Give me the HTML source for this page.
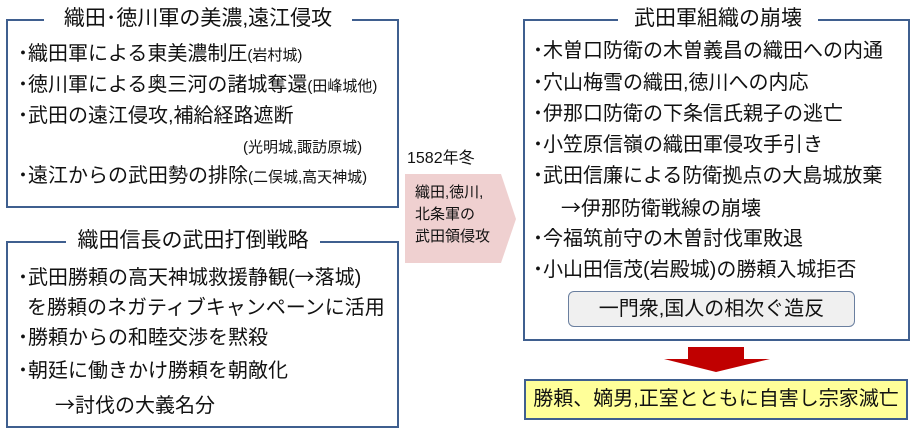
<!DOCTYPE html>
<html><head><meta charset="utf-8"><style>
body{margin:0;width:910px;height:429px;background:#fff;position:relative;overflow:hidden;font-family:"Liberation Sans","Noto Sans CJK JP",sans-serif;color:#111}
.box{position:absolute;border:2px solid #3f5f8f;box-sizing:border-box}
.t{position:absolute;white-space:nowrap;font-size:20px;line-height:24px}
.s{font-size:15px}
.d{display:inline-block;width:10px;font-size:20px;font-weight:bold}
.a{font-family:"Noto Sans CJK JP",sans-serif}
.ttl{position:absolute;background:#fff;white-space:nowrap;font-size:21px;line-height:26px;text-align:center}
</style></head><body>
<div class="box" style="left:6px;top:19px;width:393px;height:189px"></div>
<div class="ttl" style="left:44px;top:6px;width:308px">織田･徳川軍の美濃,遠江侵攻</div>
<div class="t" style="left:18px;top:42px"><span class="d">･</span>織田軍による東美濃制圧<span class="s">(岩村城)</span></div>
<div class="t" style="left:18px;top:73px"><span class="d">･</span>徳川軍による奥三河の諸城奪還<span class="s">(田峰城他)</span></div>
<div class="t" style="left:18px;top:104px"><span class="d">･</span>武田の遠江侵攻,補給経路遮断</div>
<div class="t s" style="left:243px;top:136px">(光明城,諏訪原城)</div>
<div class="t" style="left:18px;top:164px"><span class="d">･</span>遠江からの武田勢の排除<span class="s">(二俣城,高天神城)</span></div>

<div class="box" style="left:6px;top:241px;width:393px;height:187px"></div>
<div class="ttl" style="left:66px;top:228px;width:254px">織田信長の武田打倒戦略</div>
<div class="t" style="left:18px;top:264px"><span class="d">･</span>武田勝頼の高天神城救援静観(<span class="a">→</span>落城)</div>
<div class="t" style="left:27px;top:296px">を勝頼のネガティブキャンペーンに活用</div>
<div class="t" style="left:18px;top:326px"><span class="d">･</span>勝頼からの和睦交渉を黙殺</div>
<div class="t" style="left:18px;top:359px"><span class="d">･</span>朝廷に働きかけ勝頼を朝敵化</div>
<div class="t" style="left:55px;top:392px"><span class="a">→</span>討伐の大義名分</div>

<div class="t" style="left:407px;top:147px;font-size:16px">1582年冬</div>
<svg style="position:absolute;left:405px;top:174px" width="112" height="90"><polygon points="0,0 96,0 111,45 96,89 0,89" fill="#efd0d0"/></svg>
<div class="t" style="left:415px;top:182px;font-size:15px;line-height:22px">織田,徳川,<br>北条軍の<br>武田領侵攻</div>

<div class="box" style="left:523px;top:19px;width:387px;height:322px"></div>
<div class="ttl" style="left:618px;top:6px;width:200px">武田軍組織の崩壊</div>
<div class="t" style="left:533px;top:39px"><span class="d">･</span>木曽口防衛の木曽義昌の織田への内通</div>
<div class="t" style="left:533px;top:71px"><span class="d">･</span>穴山梅雪の織田,徳川への内応</div>
<div class="t" style="left:533px;top:102px"><span class="d">･</span>伊那口防衛の下条信氏親子の逃亡</div>
<div class="t" style="left:533px;top:133px"><span class="d">･</span>小笠原信嶺の織田軍侵攻手引き</div>
<div class="t" style="left:533px;top:164px"><span class="d">･</span>武田信廉による防衛拠点の大島城放棄</div>
<div class="t" style="left:561px;top:195px"><span class="a">→</span>伊那防衛戦線の崩壊</div>
<div class="t" style="left:533px;top:227px"><span class="d">･</span>今福筑前守の木曽討伐軍敗退</div>
<div class="t" style="left:533px;top:258px"><span class="d">･</span>小山田信茂(岩殿城)の勝頼入城拒否</div>
<div style="position:absolute;left:568px;top:291px;width:287px;height:36px;box-sizing:border-box;border:1px solid #6a7f9f;border-radius:6px;background:#f0f0f0;text-align:center;font-size:20px;line-height:34px">一門衆,国人の相次ぐ造反</div>

<svg style="position:absolute;left:662px;top:347px" width="110" height="26"><polygon points="26,0 82,0 82,12 108,12 54,25 2,12 26,12" fill="#c00000"/></svg>
<div style="position:absolute;left:524px;top:379px;width:384px;height:41px;box-sizing:border-box;border:2px solid #3f5f8f;background:#ffff99;text-align:center;font-size:20px;line-height:37px">勝頼、嫡男,正室とともに自害し宗家滅亡</div>
</body></html>
